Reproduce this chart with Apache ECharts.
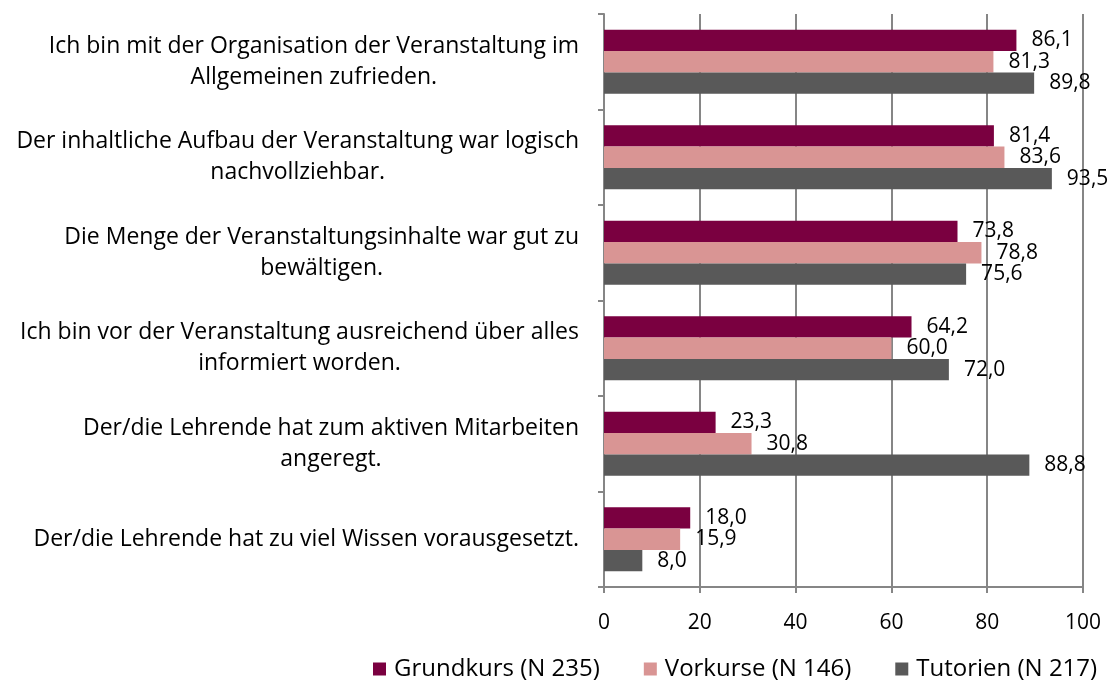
<!DOCTYPE html>
<html>
<head>
<meta charset="utf-8">
<script src="https://cdn.jsdelivr.net/npm/echarts@6/dist/echarts.min.js"></script>
<style>
  html, body { margin: 0; padding: 0; background: #fff; }
  #chart { width: 1114px; height: 691px; }
</style>
</head>
<body>
<div id="chart"></div>
<script>
// categories, top to bottom (lines split as in the original)
const categories = [
  'Ich bin mit der Organisation der Veranstaltung im\nAllgemeinen zufrieden.',
  'Der inhaltliche Aufbau der Veranstaltung war logisch\nnachvollziehbar.',
  'Die Menge der Veranstaltungsinhalte war gut zu\nbewältigen.',
  'Ich bin vor der Veranstaltung ausreichend über alles\ninformiert worden.',
  'Der/die Lehrende hat zum aktiven Mitarbeiten\nangeregt.',
  'Der/die Lehrende hat zu viel Wissen vorausgesetzt.'
]
const seriesNames = ['Grundkurs (N 235)', 'Vorkurse (N 146)', 'Tutorien (N 217)']
const grundkurs = [86.1, 81.4, 73.8, 64.2, 23.3, 18.0]
const vorkurse = [81.3, 83.6, 78.8, 60.0, 30.8, 15.9]
const tutorien = [89.8, 93.5, 75.6, 72.0, 88.8, 8.0]
const colors = ['#7a0040', '#d99594', '#595959']

const font = '"Open Sans", sans-serif'
const chart = echarts.init(document.getElementById('chart'))

function makeSeries(name, data, color) {
  return {
    name: name,
    type: 'bar',
    data: data,
    barGap: '0%',
    barCategoryGap: '33%',
    itemStyle: { color: color },
    label: {
      show: true,
      position: 'right',
      distance: 15,
      color: '#000',
      fontFamily: font,
      fontSize: 21,
      formatter: p => p.value.toFixed(1).replace('.', ',')
    },
    animation: false
  }
}

chart.setOption({
  textStyle: { fontFamily: font },
  grid: { left: 604, right: 31, top: 14, bottom: 104 },
  legend: {
    top: 652,
    left: 368,
    itemWidth: 13,
    itemHeight: 13,
    itemGap: 44,
    icon: 'rect',
    textStyle: { fontFamily: font, fontSize: 24, color: '#000', padding: [0, 0, 0, 3] },
    data: seriesNames
  },
  xAxis: {
    type: 'value',
    min: 0,
    max: 100,
    interval: 20,
    axisLine: { show: true, lineStyle: { color: '#868686', width: 2 } },
    axisTick: { show: true, length: 6, lineStyle: { color: '#868686', width: 2 } },
    axisLabel: { fontFamily: font, fontSize: 21, color: '#000', margin: 26 },
    splitLine: { show: true, lineStyle: { color: '#868686', width: 2 } }
  },
  yAxis: {
    type: 'category',
    inverse: true,
    data: categories,
    axisLine: { show: true, lineStyle: { color: '#868686', width: 2 } },
    axisTick: { show: true, length: 6, lineStyle: { color: '#868686', width: 2 } },
    axisLabel: {
      align: 'right',
      margin: 25,
      formatter: v => v.split('\n').map(s => '{a|' + s + '}').join('\n'),
      rich: {
        a: { align: 'center', fontFamily: font, fontSize: 23, color: '#000', lineHeight: 31 }
      }
    }
  },
  series: [
    makeSeries(seriesNames[0], grundkurs, colors[0]),
    makeSeries(seriesNames[1], vorkurse, colors[1]),
    makeSeries(seriesNames[2], tutorien, colors[2])
  ]
})
</script>
</body>
</html>
